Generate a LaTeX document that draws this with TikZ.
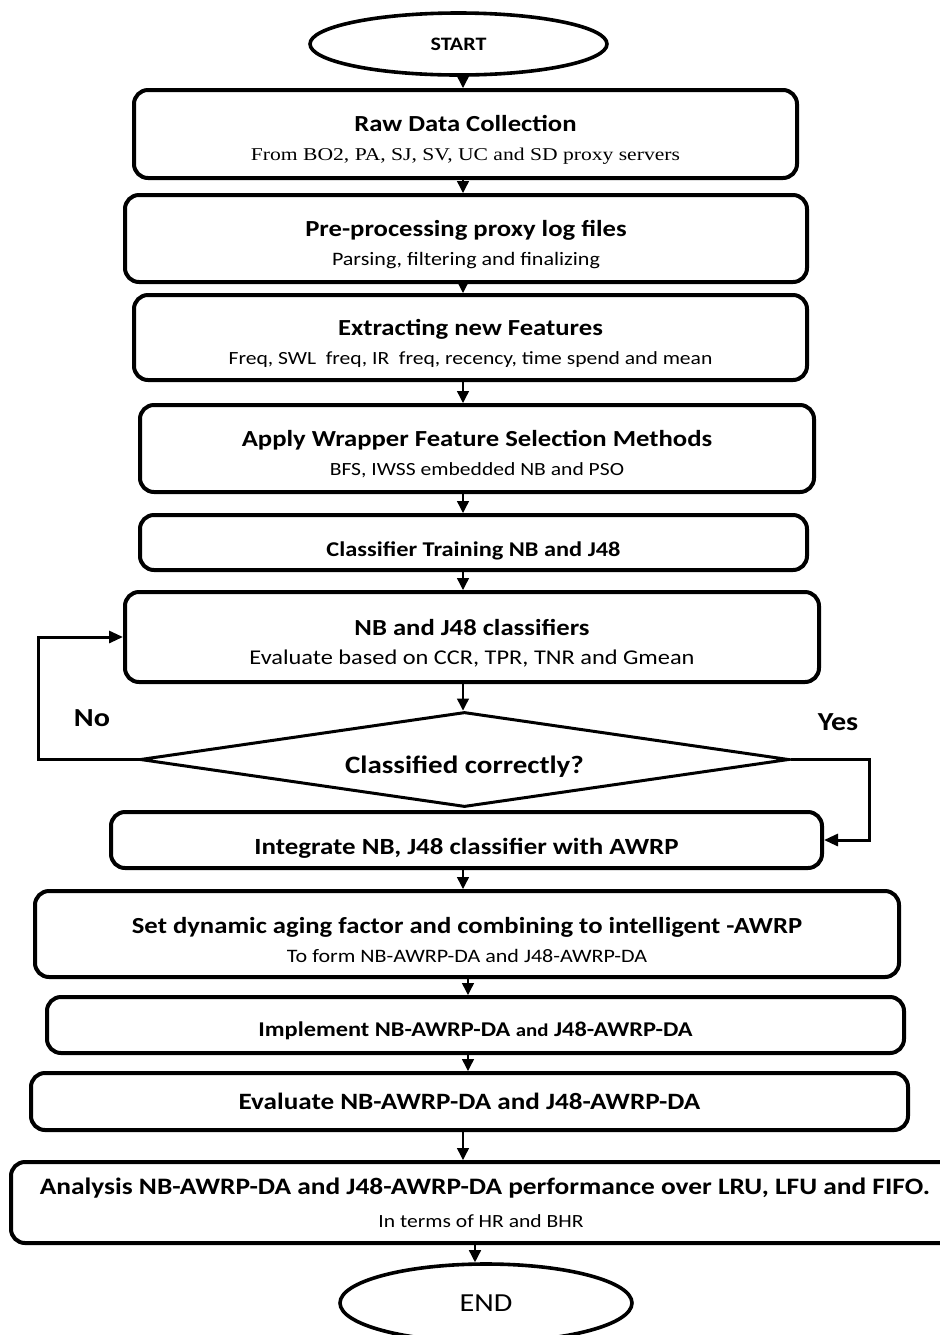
\documentclass[tikz,border=0pt]{standalone}
\usepackage{fontspec}
\setmainfont{Carlito}[FakeStretch=1.16]
\newfontfamily\tnr{Liberation Serif}[FakeStretch=1.2]
\usetikzlibrary{shapes.geometric,arrows.meta}
\newcommand\up[1]{\rule{0pt}{#1}}
\newcommand\boxtitle[1]{{\bfseries\fontsize{11.5}{14}\selectfont\up{14pt}#1}}
\newcommand\boxsub[1]{{\fontsize{9.5}{14.5}\selectfont #1}}
\begin{document}
\begin{tikzpicture}[x=0.5pt,y=-0.5pt,
  box/.style={draw, line width=2pt, rounded corners=7pt, align=center, inner sep=0pt,
    font=\fontsize{11}{14.5}\selectfont},
  oval/.style={draw, ellipse, line width=1.8pt, inner sep=0pt},
  arr/.style={-{Triangle[length=6pt,width=6pt]}, line width=0.7pt},
  back/.style={-{Triangle[length=7pt,width=6pt]}, line width=1.5pt},
  lbl/.style={font=\bfseries\fontsize{13}{15}\selectfont, inner sep=0pt},
]
\useasboundingbox (0,0) rectangle (940,1335);

\node[oval, minimum width=148.5pt, minimum height=31pt, font=\bfseries\fontsize{9.5}{11}\selectfont] (start) at (458.5,44) {START};

\node[box, minimum width=331.5pt, minimum height=44pt] (b1) at (465.5,134)
  {\boxtitle{Raw Data Collection}\\{\tnr\fontsize{9}{14}\selectfont From BO2, PA, SJ, SV, UC and SD proxy servers}};
\node[box, minimum width=341pt, minimum height=43.5pt] (b2) at (466,238.5)
  {\boxtitle{Pre-processing proxy log files}\\\boxsub{Parsing, filtering and finalizing}};
\node[box, minimum width=336.5pt, minimum height=42.5pt] (b3) at (470.5,337.5)
  {\boxtitle{Extracting new Features}\\\boxsub{\fontsize{9.3}{14.5}\selectfont Freq, SWL\ \ freq, IR\ \ freq, recency, time spend and mean}};
\node[box, minimum width=337pt, minimum height=43.5pt] (b4) at (477,448.5)
  {\boxtitle{Apply Wrapper Feature Selection Methods}\\\boxsub{\fontsize{9.3}{14.5}\selectfont BFS, IWSS embedded NB and PSO}};
\node[box, minimum width=333.5pt, minimum height=27.5pt, font=\bfseries\fontsize{10.5}{13}\selectfont] (b5) at (473.5,542.5)
  {\up{16pt}Classifier Training NB and J48};
\node[box, minimum width=347pt, minimum height=45pt] (b6) at (472,637)
  {\boxtitle{NB and J48 classifiers}\\{\fontsize{10.5}{14.5}\selectfont Evaluate based on CCR, TPR, TNR and Gmean}};
\node[draw, diamond, aspect=6.83, inner sep=0pt, line width=1.5pt, minimum width=324.5pt, minimum height=47.5pt,
  font=\bfseries\fontsize{12.5}{14}\selectfont] (dia) at (464.5,759.5) {\up{16pt}Classified correctly?};
\node[box, minimum width=355.5pt, minimum height=28pt, font=\bfseries\fontsize{11.6}{14}\selectfont] (b7) at (466.5,840)
  {\up{16.5pt}Integrate NB, J48 classifier with AWRP};
\node[box, minimum width=432pt, minimum height=43pt] (b8) at (467,934)
  {\boxtitle{Set dynamic aging factor and combining to intelligent -AWRP}\\\boxsub{To form NB-AWRP-DA and J48-AWRP-DA}};
\node[box, minimum width=428.5pt, minimum height=28pt, font=\bfseries\fontsize{10.5}{14}\selectfont] (b9) at (475.5,1025)
  {\up{13pt}Implement NB-AWRP-DA {\fontsize{9}{14}\selectfont and} J48-AWRP-DA};
\node[box, minimum width=438.5pt, minimum height=28.5pt, font=\bfseries\fontsize{11.7}{14}\selectfont] (b10) at (469.5,1101.5)
  {Evaluate NB-AWRP-DA and J48-AWRP-DA};
\node[box, minimum width=480pt, minimum height=40.5pt] (b11) at (491,1202.5)
  {{\bfseries\fontsize{11.8}{14}\selectfont Analysis NB-AWRP-DA and J48-AWRP-DA performance over LRU, LFU and FIFO.\hspace*{6pt}}\\[2pt]\boxsub{\fontsize{9.3}{14.5}\selectfont In terms of HR and BHR\hspace*{10pt}}};
\node[oval, minimum width=146pt, minimum height=39pt, font=\fontsize{13}{15}\selectfont] (end) at (486,1303) {END};

\node[lbl] (no) at (92,718) {No};
\node[lbl] (yes) at (838,722) {Yes};

\coordinate (ax) at (463,0);
\coordinate (bx) at (468,0);
\coordinate (cx) at (475,0);
\coordinate (nol) at (38,0);
\coordinate (yesr) at (869,0);

\draw[arr] (start.south -| ax) -- (b1.north -| ax);
\draw[arr] (b1.south -| ax) -- (b2.north -| ax);
\draw[arr] (b2.south -| ax) -- (b3.north -| ax);
\draw[arr] (b3.south -| ax) -- (b4.north -| ax);
\draw[arr] (b4.south -| ax) -- (b5.north -| ax);
\draw[arr] (b5.south -| ax) -- (b6.north -| ax);
\draw[arr] (b6.south -| ax) -- (dia.north -| ax);
\draw[arr] (b7.south -| ax) -- (b8.north -| ax);
\draw[arr] (b8.south -| bx) -- (b9.north -| bx);
\draw[arr] (b9.south -| bx) -- (b10.north -| bx);
\draw[arr] (b10.south -| ax) -- (b11.north -| ax);
\draw[arr] (b11.south -| cx) -- (end.north -| cx);

\draw[back] (dia.west) -- (dia.west -| nol) |- (b6.west);
\draw[back] (dia.east) -- (dia.east -| yesr) |- (b7.east);
\end{tikzpicture}
\end{document}
